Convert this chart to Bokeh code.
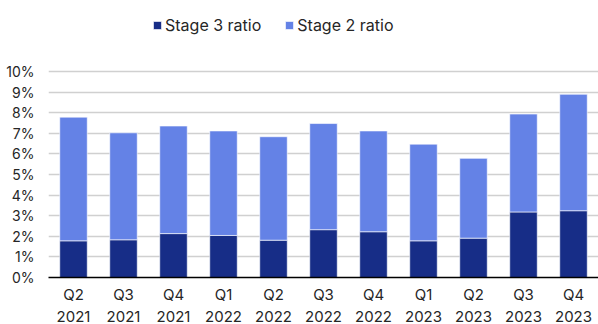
from bokeh.plotting import figure
from bokeh.models import Legend, LegendItem, FixedTicker, Range1d, LinearAxis
from bokeh.embed import file_html
from bokeh.resources import INLINE

quarters = ["Q2", "Q3", "Q4", "Q1", "Q2", "Q3", "Q4", "Q1", "Q2", "Q3", "Q4"]
years = ["2021", "2021", "2021", "2022", "2022", "2022", "2022", "2023", "2023", "2023", "2023"]
stage3 = [1.78, 1.83, 2.13, 2.04, 1.81, 2.32, 2.22, 1.78, 1.91, 3.18, 3.24]
total = [7.78, 7.02, 7.35, 7.11, 6.83, 7.47, 7.11, 6.47, 5.78, 7.93, 8.89]
stage2 = [round(t - s, 2) for t, s in zip(total, stage3)]
y_ticks = list(range(0, 11))

pos = list(range(len(quarters)))

DARK = "#172d87"
LIGHT = "#6482e6"
FONT = "Inter"
TEXT = "#262626"

# the frame reaches the top of the canvas so the legend can sit above the 10% line
p = figure(x_range=Range1d(-0.5, len(pos) - 0.5), y_range=Range1d(0, 13.44),
           width=598, height=324, output_backend="svg", toolbar_location=None,
           min_border_left=48, min_border_right=0, min_border_bottom=40, min_border_top=0)
p.outline_line_color = None

data = {"pos": pos, "stage3": stage3, "stage2": stage2}
r = p.vbar_stack(["stage3", "stage2"], x="pos", width=0.55, source=data,
                 color=[DARK, LIGHT], line_color="white", line_width=0.6)

p.yaxis.ticker = FixedTicker(ticks=y_ticks)
p.yaxis.major_label_overrides = {t: f"{t}%" for t in y_ticks}
p.yaxis.axis_line_color = None
p.yaxis.major_tick_out = 0
p.yaxis.major_tick_in = 0
p.yaxis.minor_tick_line_color = None
p.yaxis.major_label_text_font = FONT
p.yaxis.major_label_text_font_size = "14px"
p.yaxis.major_label_text_color = TEXT
p.yaxis.major_label_standoff = 14

# quarter labels on the main axis, year labels on a second axis underneath
p.xaxis.ticker = FixedTicker(ticks=pos)
p.xaxis.major_label_overrides = dict(zip(pos, quarters))
p.xaxis.axis_line_color = "black"
p.xaxis.axis_line_width = 1.5
p.xaxis.major_tick_out = 0
p.xaxis.major_tick_in = 0
p.xaxis.minor_tick_line_color = None
p.xaxis.major_label_text_font = FONT
p.xaxis.major_label_text_font_size = "15px"
p.xaxis.major_label_text_color = TEXT
p.xaxis.major_label_standoff = 7

year_axis = LinearAxis(ticker=FixedTicker(ticks=pos),
                       major_label_overrides=dict(zip(pos, years)),
                       axis_line_color=None, major_tick_out=0, major_tick_in=0,
                       minor_tick_line_color=None, major_label_text_font=FONT,
                       major_label_text_font_size="15px",
                       major_label_text_color=TEXT, major_label_standoff=4)
p.add_layout(year_axis, "below")

p.xgrid.grid_line_color = None
p.ygrid.grid_line_color = "#d0d0d0"
p.ygrid.grid_line_width = 1.5

legend = Legend(items=[LegendItem(label="Stage 3 ratio", renderers=[r[0]]),
                       LegendItem(label="Stage 2 ratio", renderers=[r[1]])],
                orientation="horizontal", location=(104, 242),
                label_text_font=FONT, label_text_font_size="16px",
                label_text_color=TEXT, glyph_width=10, glyph_height=10,
                label_standoff=3, spacing=23, border_line_color=None,
                background_fill_alpha=0, margin=0, padding=0)
p.add_layout(legend, "center")

open("out.html", "w").write(file_html(p, INLINE))
